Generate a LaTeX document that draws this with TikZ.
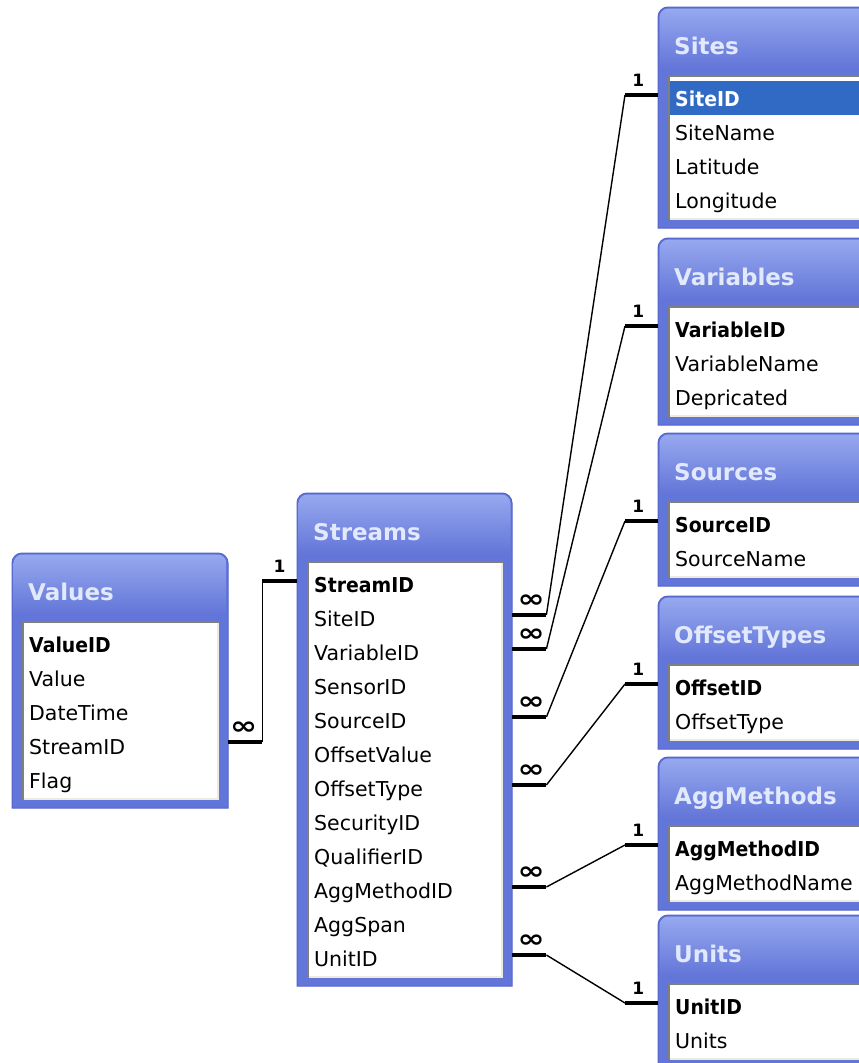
\documentclass[tikz,border=0pt]{standalone}
\usepackage{fontspec}
\setmainfont{DejaVu Sans}
\newfontfamily\keyfont[FakeStretch=0.92]{DejaVu Sans}

\definecolor{accblue}{RGB}{98,117,216}
\definecolor{acclight}{RGB}{150,168,238}
\definecolor{accedge}{RGB}{84,100,205}
\definecolor{titletext}{RGB}{226,233,252}
\definecolor{selblue}{RGB}{49,106,197}
\definecolor{panelshade}{RGB}{128,128,120}
\definecolor{panellight}{RGB}{238,234,222}

% one table window: name, left x, top y, width, title, rows (first row is the key)
\newcommand{\dbtable}[6]{%
  \xdef\nrows{0}%
  \foreach \r [count=\i] in {#6} {\xdef\nrows{\i}}%
  \pgfmathsetmacro\tbot{#3+91+34*(\nrows-1)+28}%
  \pgfmathsetmacro\thgt{\tbot-#3}%
  \pgfmathsetmacro\tw{#4-32}%
  \path[fill=accblue, draw=accedge, line width=1pt] (#2,\tbot) [rounded corners=10] -- (#2,#3) -- (#2+#4,#3) [sharp corners] -- (#2+#4,\tbot) -- cycle;
  \shade[top color=acclight, bottom color=accblue] (#2+1.5,#3+62) [rounded corners=9] -- (#2+1.5,#3+1.5) -- (#2+#4-1.5,#3+1.5) [sharp corners] -- (#2+#4-1.5,#3+62) -- cycle;
  \fill[white] (#2+10,#3+68) rectangle (#2+#4-9,\tbot-8);
  \draw[panellight, line width=2pt] (#2+11,\tbot-9) -| (#2+#4-10,#3+68);
  \draw[panelshade, line width=2pt] (#2+11,\tbot-8) -- (#2+11,#3+69) -- (#2+#4-9,#3+69);
  \node[inner sep=0, minimum width=#4, minimum height=\thgt pt, anchor=north west] (#1) at (#2,#3) {};
  \node[tabtitle] (#1-title) at (#2+16,#3+47) {#5};
  \foreach \r [count=\i] in {#6} {
    \ifnum\i=1 \tikzset{cur/.style={keyrow}}\else\tikzset{cur/.style={tabrow}}\fi
    \node[cur, text width=\tw pt] (#1-\i) at (#2+12,#3+57+34*\i) {\r};
  }%
}

% many side -> one side
\newcommand{\relate}[2]{%
  \path (#1) ++(0,-3) coordinate (many end);
  \path (#2) ++(0,-3) coordinate (one end);
  \draw[relbar] (many end) -- ++(34,0) node[many, pos=0.55, above=6pt] {∞};
  \draw[relline] ([xshift=34pt]many end) -- ([xshift=-33pt]one end);
  \draw[relbar] (one end) -- ++(-33,0) node[one, pos=0.6, above=7pt] {1};
}

\begin{document}
\begin{tikzpicture}[x=1pt, y=-1pt,
  tabtitle/.style={anchor=base west, inner sep=0, text=titletext, font=\fontsize{23}{27}\selectfont\bfseries},
  tabrow/.style={anchor=west, inner xsep=5pt, inner ysep=0, minimum height=34pt, text height=20pt, text depth=3pt, align=left, font=\fontsize{20.5}{24}\selectfont},
  keyrow/.style={tabrow, font=\fontsize{20.5}{24}\selectfont\keyfont\bfseries},
  relbar/.style={line width=4pt},
  relline/.style={line width=1.4pt},
  many/.style={inner sep=0, xscale=1.3, transform shape, font=\fontsize{25}{25}\selectfont\bfseries},
  one/.style={inner sep=0, font=\fontsize{17}{17}\selectfont\bfseries}]
\useasboundingbox (0,0) rectangle (859,1063);
\fill[white] (0,0) rectangle (859,1063);
\clip (0,0) rectangle (859,1063);

\dbtable{values}{12}{553}{216}{Values}{ValueID,Value,DateTime,StreamID,Flag}
\dbtable{streams}{297}{493}{215}{Streams}{StreamID,SiteID,VariableID,SensorID,SourceID,OffsetValue,OffsetType,SecurityID,QualifierID,AggMethodID,AggSpan,UnitID}
\begin{scope}[keyrow/.append style={fill=selblue, text=white}]
\dbtable{sites}{658}{7}{230}{Sites}{SiteID,SiteName,Latitude,Longitude}
\end{scope}
\dbtable{variables}{658}{238}{230}{Variables}{VariableID,VariableName,Depricated}
\dbtable{sources}{658}{433}{230}{Sources}{SourceID,SourceName}
\dbtable{offsettypes}{658}{596}{230}{OffsetTypes}{OffsetID,OffsetType}
\dbtable{aggmethods}{658}{757}{230}{AggMethods}{AggMethodID,AggMethodName}
\dbtable{units}{658}{915}{230}{Units}{UnitID,Units}

% Values -> Streams
\path (values.east |- values-4) ++(0,-4) coordinate (v end);
\path (streams.west |- streams-1) ++(0,-3) coordinate (s end);
\draw[relbar] (v end) -- ++(34,0) node[many, pos=0.45, above=6pt] {∞};
\draw[relline] ([xshift=34pt]v end) |- ([xshift=-35pt]s end);
\draw[relbar] (s end) -- ++(-35,0) node[one, pos=0.5, above=7pt] {1};

% Streams -> lookup tables
\relate{streams.east |- streams-2}{sites.west |- sites-1}
\relate{streams.east |- streams-3}{variables.west |- variables-1}
\relate{streams.east |- streams-5}{sources.west |- sources-1}
\relate{streams.east |- streams-7}{offsettypes.west |- offsettypes-1}
\relate{streams.east |- streams-10}{aggmethods.west |- aggmethods-1}
\relate{streams.east |- streams-12}{units.west |- units-1}
\end{tikzpicture}
\end{document}
